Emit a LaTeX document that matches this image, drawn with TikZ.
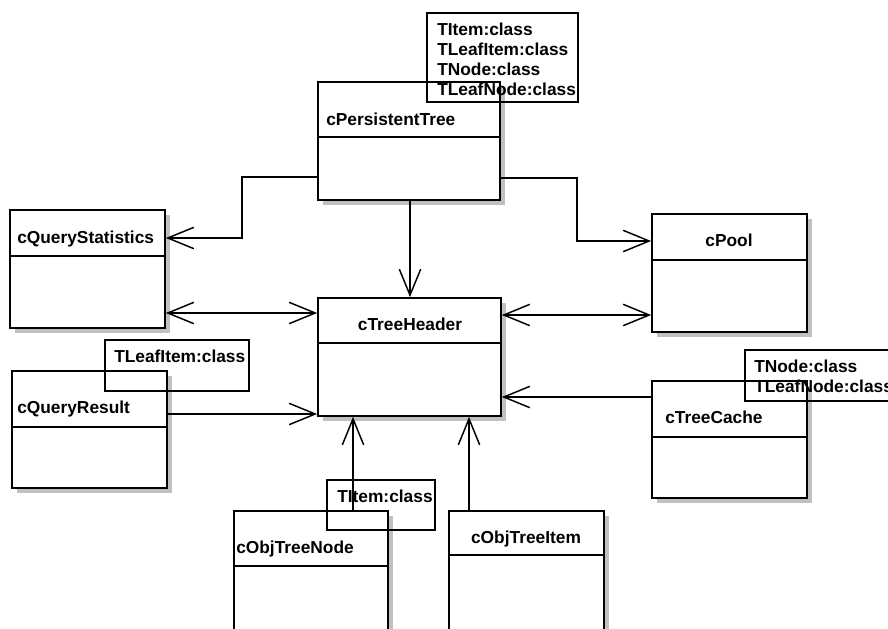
\documentclass[tikz,border=0pt]{standalone}
\usepackage{fontspec}
\setmainfont{Liberation Sans}
\usetikzlibrary{arrows.meta,fit}
\definecolor{shadowgray}{RGB}{192,192,192}
\tikzset{
  x=0.75pt, y=-0.75pt,
  boxline/.style={line width=1.3pt, draw=black},
  classbox/.style={boxline, fill=white, inner sep=0pt, rectangle},
  tmplbox/.style={line width=1.2pt, draw=black, inner sep=0pt, rectangle},
  title/.style={font=\fontsize{13}{15}\selectfont\bfseries, inner sep=0pt},
  tmpltext/.style={font=\fontsize{13}{15}\selectfont\bfseries, inner sep=0pt, align=left, anchor=north west},
  vee/.tip={Straight Barb[length=19.5pt, width=16pt, line width=1.1pt]},
  assoc/.style={line width=1.1pt, -{vee}},
  both/.style={line width=1.1pt, {vee}-{vee}},
}
\newcommand{\umlclass}[6]{%
  \fill[shadowgray] (#2+5,#3+5) rectangle (#4+5,#5+5);
  \node[classbox, fit={(#2,#3) (#4,#5)}] (#1) {};
  \draw[boxline] (#2,#6) -- (#4,#6);
}
\begin{document}
\begin{tikzpicture}
\useasboundingbox (0,0) rectangle (888,628);
\clip (0,0) rectangle (888,628);
\fill[white] (0,0) rectangle (888,628);

% classes
\umlclass{pt}{318}{82}{500}{200}{137}
\node[title, anchor=base west] (ptT) at (326,125) {cPersistentTree};

\umlclass{qs}{10}{210}{165}{328}{256}
\node[title, anchor=base west] (qsT) at (17,243) {cQueryStatistics};

\umlclass{th}{318}{298}{501}{416}{343}
\node[title, anchor=base] (thT) at (410,330) {cTreeHeader};

\umlclass{qr}{12}{371}{167}{488}{427}
\node[title, anchor=base west] (qrT) at (17,413) {cQueryResult};

\umlclass{pool}{652}{214}{807}{332}{260}
\node[title, anchor=base] (poolT) at (729,246) {cPool};

\umlclass{tc}{652}{381}{807}{498}{437}
\node[title, anchor=base west] (tcT) at (665,423) {cTreeCache};

\umlclass{otn}{234}{511}{388}{660}{566}
\node[title, anchor=base west] (otnT) at (236,553) {cObjTreeNode};

\umlclass{oti}{449}{511}{604}{660}{555}
\node[title, anchor=base] (otiT) at (526,543) {cObjTreeItem};

% connectors
\draw[assoc] (pt.west |- 0,177) -| (242,238) -- (qs.east |- 0,238);
\draw[assoc] (pt.south -| 410,0) -- (th.north -| 410,0);
\draw[assoc] (pt.east |- 0,178) -| (577,241) -- (pool.west |- 0,241);
\draw[both] (qs.east |- 0,313) -- (th.west |- 0,313);
\draw[both] (th.east |- 0,315) -- (pool.west |- 0,315);
\draw[assoc] (qr.east |- 0,414) -- (th.west |- 0,414);
\draw[assoc] (tc.west |- 0,397) -- (th.east |- 0,397);
\draw[assoc] (otn.north -| 353,0) -- (th.south -| 353,0);
\draw[assoc] (oti.north -| 469,0) -- (th.south -| 469,0);

% template parameter boxes
\node[tmplbox, fit={(427,13) (578,102)}] (ptP) {};
\node[tmpltext] (ptPT) at (437,22.5) {TItem:class\\TLeafItem:class\\TNode:class\\TLeafNode:class};

\node[tmplbox, fit={(105,340) (249,391)}] (qrP) {};
\node[tmpltext] (qrPT) at (114,349.5) {TLeafItem:class};

\node[tmplbox, fit={(745,350) (900,401)}] (tcP) {};
\node[tmpltext] (tcPT) at (754,359.5) {TNode:class\\TLeafNode:class};

\node[tmplbox, fit={(327,480) (435,530)}] (otnP) {};
\node[tmpltext] (otnPT) at (337,489.5) {TItem:class};
\end{tikzpicture}
\end{document}
